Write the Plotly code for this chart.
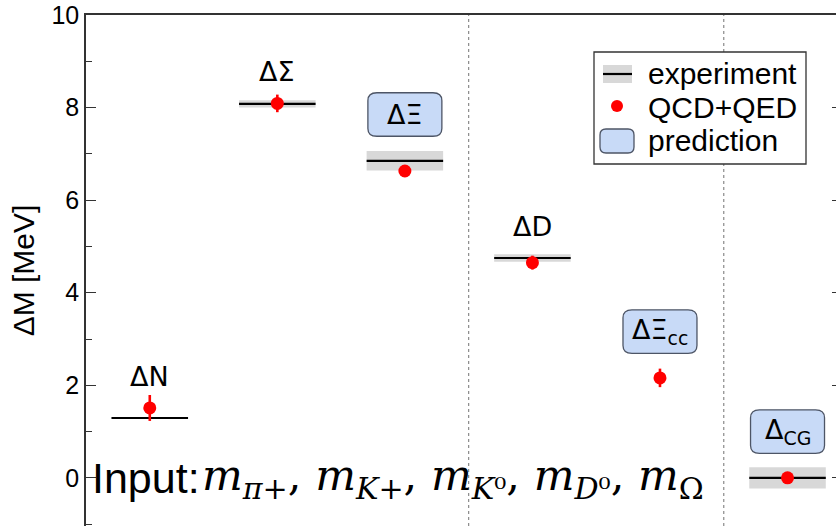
import plotly.graph_objects as go

# Isospin mass splittings: experiment vs. lattice QCD+QED
labels = ["ΔN", "ΔΣ", "ΔΞ", "ΔD", "ΔΞ<sub>cc</sub>", "Δ<sub>CG</sub>"]
is_prediction = [False, False, True, False, True, True]
exp_val = [1.293, 8.08, 6.85, 4.75, None, 0.00]
exp_err = [0.0005, 0.08, 0.21, 0.08, None, 0.23]
lat_val = [1.51, 8.09, 6.63, 4.65, 2.16, 0.00]
lat_err = [0.28, 0.19, 0.10, 0.15, 0.20, 0.10]
y_ticks = [0, 2, 4, 6, 8, 10]
separators = [3.5, 5.5]

xpos = list(range(1, len(labels) + 1))
HALF_W = 0.3

# figure geometry (pixels) used to place paper-referenced decorations
W, H = 836, 526
ML, MT = 86, 15
PW, PH = W - ML, H - MT


def px_x(p):
    return (p - ML) / PW


def px_y(p):
    return (H - p) / PH


fig = go.Figure()

# experimental uncertainty bands
bx = [x for x, v in zip(xpos, exp_val) if v is not None]
bbase = [v - e for v, e in zip(exp_val, exp_err) if v is not None]
bh = [2 * e for v, e in zip(exp_val, exp_err) if v is not None]
fig.add_trace(go.Bar(x=bx, y=bh, base=bbase, width=2 * HALF_W,
                     marker=dict(color="#d8d8d8", line=dict(width=0)),
                     showlegend=False, hoverinfo="skip"))

# experimental central values
lx, ly = [], []
for x, v in zip(xpos, exp_val):
    if v is None:
        continue
    lx += [x - HALF_W, x + HALF_W, None]
    ly += [v, v, None]
fig.add_trace(go.Scatter(x=lx, y=ly, mode="lines",
                         line=dict(color="black", width=2.2),
                         showlegend=False, hoverinfo="skip"))

# QCD+QED results
fig.add_trace(go.Scatter(x=xpos, y=lat_val, mode="markers",
                         marker=dict(color="#ff0000", size=13),
                         error_y=dict(type="data", array=lat_err, color="#ff0000",
                                      thickness=2.6, width=0),
                         showlegend=False))

shapes = []
annotations = []

# separators between groups
for s in separators:
    shapes.append(dict(type="line", xref="x", yref="paper", x0=s, x1=s, y0=0, y1=1,
                       line=dict(color="#8a8a8a", width=1.2, dash="dot"), layer="below"))


def rounded_path(x0, x1, y0, y1, rx, ry):
    return (f"M{x0 + rx},{y0} L{x1 - rx},{y0} Q{x1},{y0} {x1},{y0 + ry} "
            f"L{x1},{y1 - ry} Q{x1},{y1} {x1 - rx},{y1} L{x0 + rx},{y1} "
            f"Q{x0},{y1} {x0},{y1 - ry} L{x0},{y0 + ry} Q{x0},{y0} {x0 + rx},{y0} Z")


# labels above each splitting; predictions get a rounded box
for x, lab, pred, ev, lv in zip(xpos, labels, is_prediction, exp_val, lat_val):
    top = max(v for v in (ev, lv) if v is not None)
    if pred:
        yc = top + 1.0
        bw, bhh = 0.29, 0.47
        shapes.append(dict(type="path", xref="x", yref="y",
                           path=rounded_path(x - bw, x + bw, yc - bhh, yc + bhh, 0.07, 0.17),
                           fillcolor="#c8daf7", line=dict(color="#4d5566", width=1.3)))
    else:
        yc = top + 0.68
    annotations.append(dict(x=x, y=yc, xref="x", yref="y", text=lab, showarrow=False,
                            font=dict(family="DejaVu Sans", size=27, color="black"),
                            xanchor="center", yanchor="middle"))

# input quantities
annotations.append(dict(x=px_x(90), y=0, xref="paper", yref="y", text="Input:",
                        showarrow=False, xanchor="left", yanchor="middle",
                        font=dict(family="Liberation Sans", size=43, color="black")))
math = ("<i>m</i><sub><i>π</i>+</sub>, <i>m</i><sub><i>K</i>+</sub>, "
        "<i>m</i><sub><i>K</i>⁰</sub>, <i>m</i><sub><i>D</i>⁰</sub>, <i>m</i><sub>Ω</sub>")
annotations.append(dict(x=px_x(200), y=0, xref="paper", yref="y", text=math,
                        showarrow=False, xanchor="left", yanchor="middle",
                        font=dict(family="DejaVu Serif", size=43, color="black")))

# legend box drawn by hand
shapes.append(dict(type="rect", xref="paper", yref="paper",
                   x0=px_x(594), x1=px_x(806), y0=px_y(164), y1=px_y(52),
                   fillcolor="white", line=dict(color="#333333", width=1.3)))
shapes.append(dict(type="rect", xref="paper", yref="paper",
                   x0=px_x(603), x1=px_x(632), y0=px_y(83), y1=px_y(65),
                   fillcolor="#d8d8d8", line=dict(width=0)))
shapes.append(dict(type="line", xref="paper", yref="paper",
                   x0=px_x(603), x1=px_x(632), y0=px_y(74), y1=px_y(74),
                   line=dict(color="black", width=2.2)))
shapes.append(dict(type="circle", xref="paper", yref="paper",
                   x0=px_x(611), x1=px_x(623), y0=px_y(112), y1=px_y(100),
                   fillcolor="#ff0000", line=dict(width=0)))


def rounded_px(x0, x1, y0, y1, r):
    return rounded_path(px_x(x0), px_x(x1), px_y(y1), px_y(y0), r / PW, r / PH)


shapes.append(dict(type="path", xref="paper", yref="paper",
                   path=rounded_px(600, 634, 129, 153, 6),
                   fillcolor="#c8daf7", line=dict(color="#4d5566", width=1.3)))
for txt, yc in [("experiment", 73), ("QCD+QED", 107), ("prediction", 140)]:
    annotations.append(dict(x=px_x(646), y=px_y(yc), xref="paper", yref="paper", text=txt,
                            showarrow=False, xanchor="left", yanchor="middle",
                            font=dict(family="Liberation Sans", size=30, color="black")))

fig.update_layout(
    width=W, height=H,
    margin=dict(l=ML, r=0, t=MT, b=0),
    paper_bgcolor="white", plot_bgcolor="white",
    showlegend=False,
    shapes=shapes, annotations=annotations,
    xaxis=dict(range=[0.5, 6.38], side="top", showline=True, linecolor="#333333",
               linewidth=1.5, showticklabels=False, ticks="", showgrid=False,
               zeroline=False, fixedrange=True),
    yaxis=dict(range=[-1.04, 10], tickvals=y_ticks, ticks="inside", ticklen=10,
               tickwidth=1.3, tickcolor="#333333", showline=True, linecolor="#333333",
               linewidth=1.5, showgrid=False, zeroline=False,
               minor=dict(dtick=1, ticks="inside", ticklen=6, tickcolor="#333333",
                          tickwidth=1.2, showgrid=False),
               tickfont=dict(family="Liberation Sans", size=25, color="black"),
               title=dict(text="ΔM [MeV]", standoff=8,
                          font=dict(family="Liberation Sans", size=30, color="black"))),
    yaxis2=dict(range=[-1.04, 10], overlaying="y", side="right", tickvals=y_ticks,
                ticks="inside", ticklen=4, tickwidth=1.3, tickcolor="#333333",
                showticklabels=False, showline=False, showgrid=False, zeroline=False),
)
# empty trace so the right-hand tick axis is drawn
fig.add_trace(go.Scatter(x=[None], y=[None], yaxis="y2", showlegend=False))

fig.write_html("out.html")
